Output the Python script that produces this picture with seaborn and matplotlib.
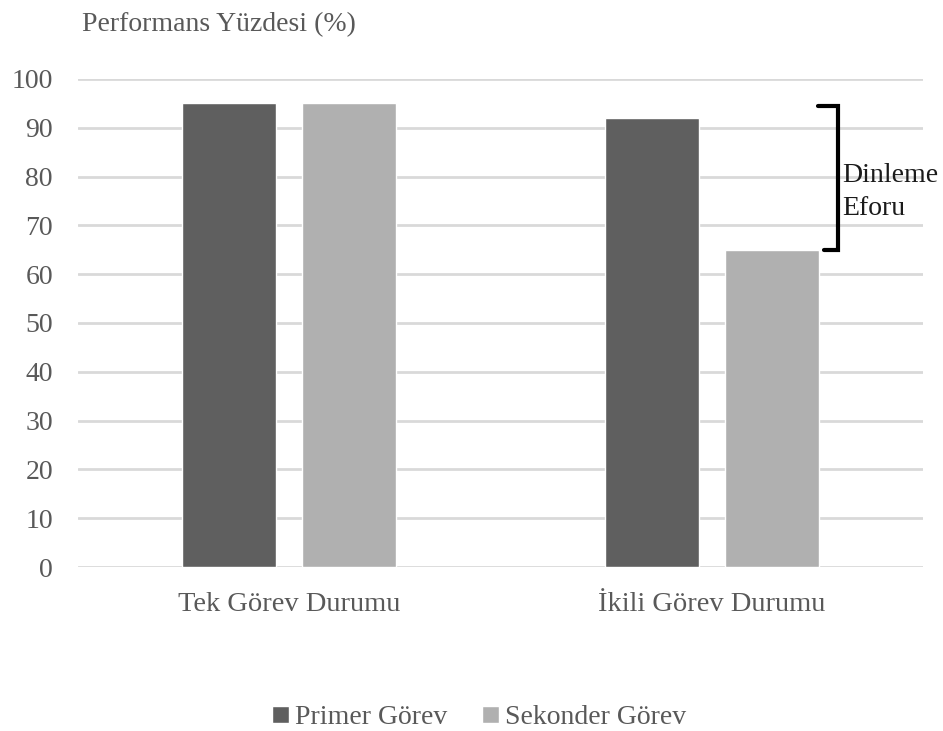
import matplotlib
matplotlib.use("Agg")
import matplotlib.pyplot as plt
import seaborn as sns
import pandas as pd

conditions = ["Tek Görev Durumu", "İkili Görev Durumu"]
tasks = ["Primer Görev", "Sekonder Görev"]
primary_values = [95, 92]
secondary_values = [95, 65]
y_ticks = [0, 10, 20, 30, 40, 50, 60, 70, 80, 90, 100]
effort_label = "Dinleme\nEforu"
effort_top = 94.5
effort_bottom = secondary_values[1]

sns.set_theme(style="white")
plt.rcParams["font.family"] = ["Liberation Serif", "DejaVu Serif"]

df = pd.DataFrame({
    "Durum": conditions * 2,
    "Görev": [tasks[0]] * 2 + [tasks[1]] * 2,
    "Değer": primary_values + secondary_values,
})

text_color = "#595959"
fig = plt.figure(figsize=(9.43, 7.31), dpi=100)
ax = fig.add_axes([0.0827, 0.2243, 0.8961, 0.6677])

sns.barplot(data=df, x="Durum", y="Değer", hue="Görev", order=conditions,
            hue_order=tasks, palette=["#5f5f5f", "#b0b0b0"],
            width=0.568, gap=0.217, saturation=1, errorbar=None, ax=ax,
            legend=True)

ax.set_ylim(0, 100)
ax.set_xlim(-0.5, 1.5)
ax.set_yticks(y_ticks)
ax.yaxis.grid(True, color="#d9d9d9", linewidth=2)
ax.set_axisbelow(True)
for s in ax.spines.values():
    s.set_visible(False)
ax.tick_params(axis="both", length=0, labelsize=20, labelcolor=text_color)
ax.tick_params(axis="y", pad=18)
ax.tick_params(axis="x", pad=18, labelsize=20.5)
ax.set_xlabel("")
ax.set_ylabel("")

fig.text(0.087, 0.966, "Performans Yüzdesi (%)", fontsize=20, color=text_color,
         ha="left", va="center")

# bracket marking the drop of the secondary task under dual-task load
ax.plot([1.251, 1.299, 1.299, 1.266],
        [effort_top, effort_top, effort_bottom, effort_bottom],
        color="black", linewidth=3, solid_joinstyle="miter", clip_on=False)
ax.text(1.308, 76.8, effort_label, fontsize=20, color="#1a1a1a",
        ha="left", va="center", linespacing=1.4)

leg = ax.legend(loc="upper center", bbox_to_anchor=(0.4746, -0.232), ncol=2,
                frameon=False, fontsize=20, handlelength=0.6, handleheight=0.6,
                handletextpad=0.22, columnspacing=1.26)
for t in leg.get_texts():
    t.set_color(text_color)

fig.savefig("out.png", dpi=100, facecolor="white")
